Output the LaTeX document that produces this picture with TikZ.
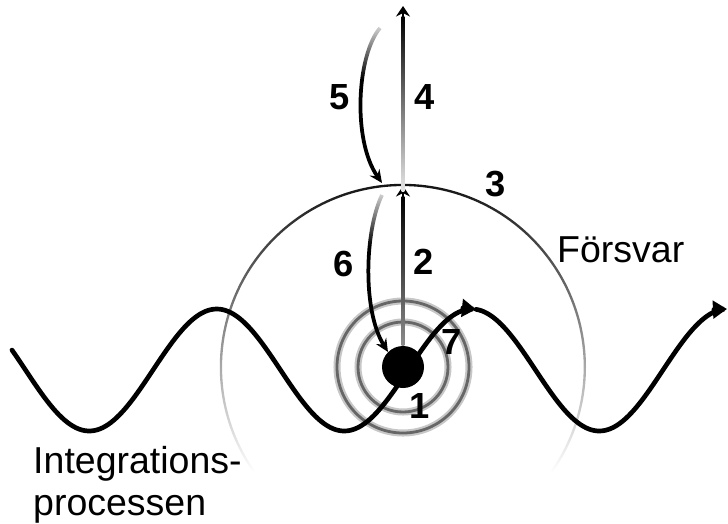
\documentclass[tikz,border=0pt]{standalone}
\usepackage{fontspec}
\setmainfont{Liberation Sans}
\usetikzlibrary{arrows.meta,fadings,calc}
\begin{tikzfadingfrompicture}[name=fadein]
  \fill[transparent!0] (0,0) rectangle (2,2);
  \shade[top color=transparent!100, bottom color=transparent!0] (0,1.3) rectangle (2,2);
\end{tikzfadingfrompicture}
\tikzfading[name=arcfade, top color=transparent!0, middle color=transparent!30, bottom color=transparent!100]

\begin{document}
\begin{tikzpicture}[x=0.03cm, y=-0.03cm,
    wave/.style={line width=4pt, line cap=round},
    big/.style={-{Triangle[length=12pt, width=15pt]}},
    ray/.style={line width=2.2pt, -{Stealth[length=9pt, width=12pt]}},
    bent/.style={line width=3.2pt, -{Stealth[length=11pt, width=10pt]}, path fading=fadein},
    num/.style={font=\fontsize{31}{31}\selectfont\bfseries, inner sep=0pt},
    lbl/.style={font=\fontsize{32}{40}\selectfont, inner sep=0pt}]
  \useasboundingbox (0,0) rectangle (728,523);
  \coordinate (ctr) at (403,367);
  \coordinate (top) at (403,186);
  \coordinate (sky) at (403,6);
  \coordinate (s4) at (403,191);
  \coordinate (s5) at (380,28);
  \coordinate (e5) at (382,183);
  \coordinate (s6) at (382,195);
  \draw[line width=2pt, path fading=arcfade] (ctr) ++(145:182) arc[start angle=145, end angle=395, radius=182];
  \foreach \r in {45,66} {
    \draw[black!22, line width=6pt] (ctr) circle[radius=\r];
    \draw[black!60, line width=2.4pt] (ctr) circle[radius=\r];
  }
  \draw[wave, big] plot[domain=12:476, samples=160] (\x, {370-61*sin((\x-408)*1.41176)});
  \draw[wave, big] plot[domain=476:727, samples=90] (\x, {370-61*sin((\x-408)*1.41176)});
  \node[circle, fill, minimum size=1.26cm, inner sep=0pt] (core) at (ctr) {};
  \shade[top color=black, middle color=black!80, bottom color=black!45]
        ($(core.north)+(-1.3,0)$) rectangle ($(top)+(1.3,10)$);
  \draw[ray] ($(top)+(0,14)$) -- (top);
  \shade[top color=black, middle color=black!85, bottom color=black!10]
        ($(s4)+(-1.3,0)$) rectangle ($(sky)+(1.3,10)$);
  \draw[ray] ($(sky)+(0,14)$) -- (sky);
  \draw[bent] (s5) .. controls (357,55) and (352,140) .. (e5);
  \draw[bent] (s6) .. controls (365,230) and (362,310) .. (core.north west);
  \node[num] (n1) at (420,406) {1};
  \node[num] (n2) at (424,262) {2};
  \node[num] (n3) at (496,184) {3};
  \node[num] (n4) at (425,97) {4};
  \node[num] (n5) at (340,97) {5};
  \node[num] (n6) at (344,264) {6};
  \node[num] (n7) at (452,342) {7};
  \node[lbl, anchor=base west] (frs) at (557,262) {Försvar};
  \node[lbl, anchor=base west] (int) at (33,473) {Integrations-};
  \node[lbl, anchor=base west] (proc) at (33,515) {processen};
\end{tikzpicture}
\end{document}
